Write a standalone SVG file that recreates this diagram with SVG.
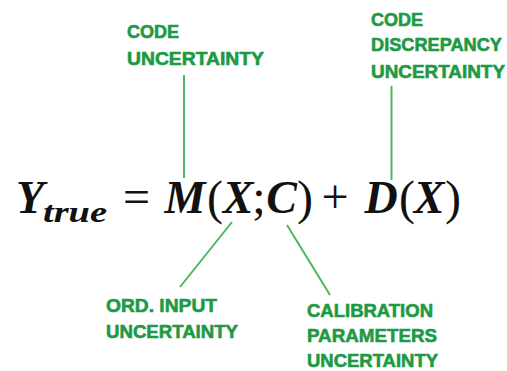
<svg xmlns="http://www.w3.org/2000/svg" width="507" height="371" viewBox="0 0 507 371">
<style>
.lbl{font-family:"Liberation Sans",Arial,sans-serif;font-weight:bold;font-size:18px;fill:#1e9a45;stroke:#1e9a45;stroke-width:0.6px}
.v{font-family:"Liberation Serif","Times New Roman",serif;font-weight:bold;font-style:italic;font-size:46px;fill:#111;text-anchor:middle}
.o{font-family:"Liberation Serif","Times New Roman",serif;font-size:48px;fill:#111;text-anchor:middle}
.ln{stroke:#4cb85c;stroke-width:2;fill:none}
</style>
<rect width="507" height="371" fill="#fff"/>
<g id="connectors">
<line class="ln" x1="184" y1="75" x2="184" y2="178"/>
<line class="ln" x1="391.5" y1="86" x2="391.5" y2="180"/>
<line class="ln" x1="232" y1="222" x2="180" y2="287"/>
<line class="ln" x1="287" y1="225" x2="330" y2="295"/>
</g>
<g id="equation">
<text class="v" x="30" y="213">Y</text>
<text class="v" x="43" y="222" style="font-size:30px;text-anchor:start" textLength="64" lengthAdjust="spacingAndGlyphs">true</text>
<text class="o" x="136.5" y="213">=</text>
<text class="v" x="185" y="213">M</text>
<text class="o" x="215" y="214">(</text>
<text class="v" x="238" y="213">X</text>
<text class="o" x="259" y="213">;</text>
<text class="v" x="281.5" y="213">C</text>
<text class="o" x="305" y="214">)</text>
<text class="o" x="335" y="213">+</text>
<text class="v" x="381" y="213">D</text>
<text class="o" x="407" y="214">(</text>
<text class="v" x="429" y="213">X</text>
<text class="o" x="453" y="214">)</text>
</g>
<g id="code-uncertainty">
<text class="lbl" x="127" y="38">CODE</text>
<text class="lbl" x="127" y="65" textLength="137" lengthAdjust="spacingAndGlyphs">UNCERTAINTY</text>
</g>
<g id="code-discrepancy-uncertainty">
<text class="lbl" x="371" y="26">CODE</text>
<text class="lbl" x="371" y="51" textLength="131" lengthAdjust="spacingAndGlyphs">DISCREPANCY</text>
<text class="lbl" x="371" y="78" textLength="134" lengthAdjust="spacingAndGlyphs">UNCERTAINTY</text>
</g>
<g id="ord-input-uncertainty">
<text class="lbl" x="106" y="312" textLength="111" lengthAdjust="spacingAndGlyphs">ORD. INPUT</text>
<text class="lbl" x="106" y="338" textLength="132" lengthAdjust="spacingAndGlyphs">UNCERTAINTY</text>
</g>
<g id="calibration-parameters-uncertainty">
<text class="lbl" x="307" y="317" textLength="126" lengthAdjust="spacingAndGlyphs">CALIBRATION</text>
<text class="lbl" x="307" y="342" textLength="130" lengthAdjust="spacingAndGlyphs">PARAMETERS</text>
<text class="lbl" x="307" y="367" textLength="131" lengthAdjust="spacingAndGlyphs">UNCERTAINTY</text>
</g>
</svg>
